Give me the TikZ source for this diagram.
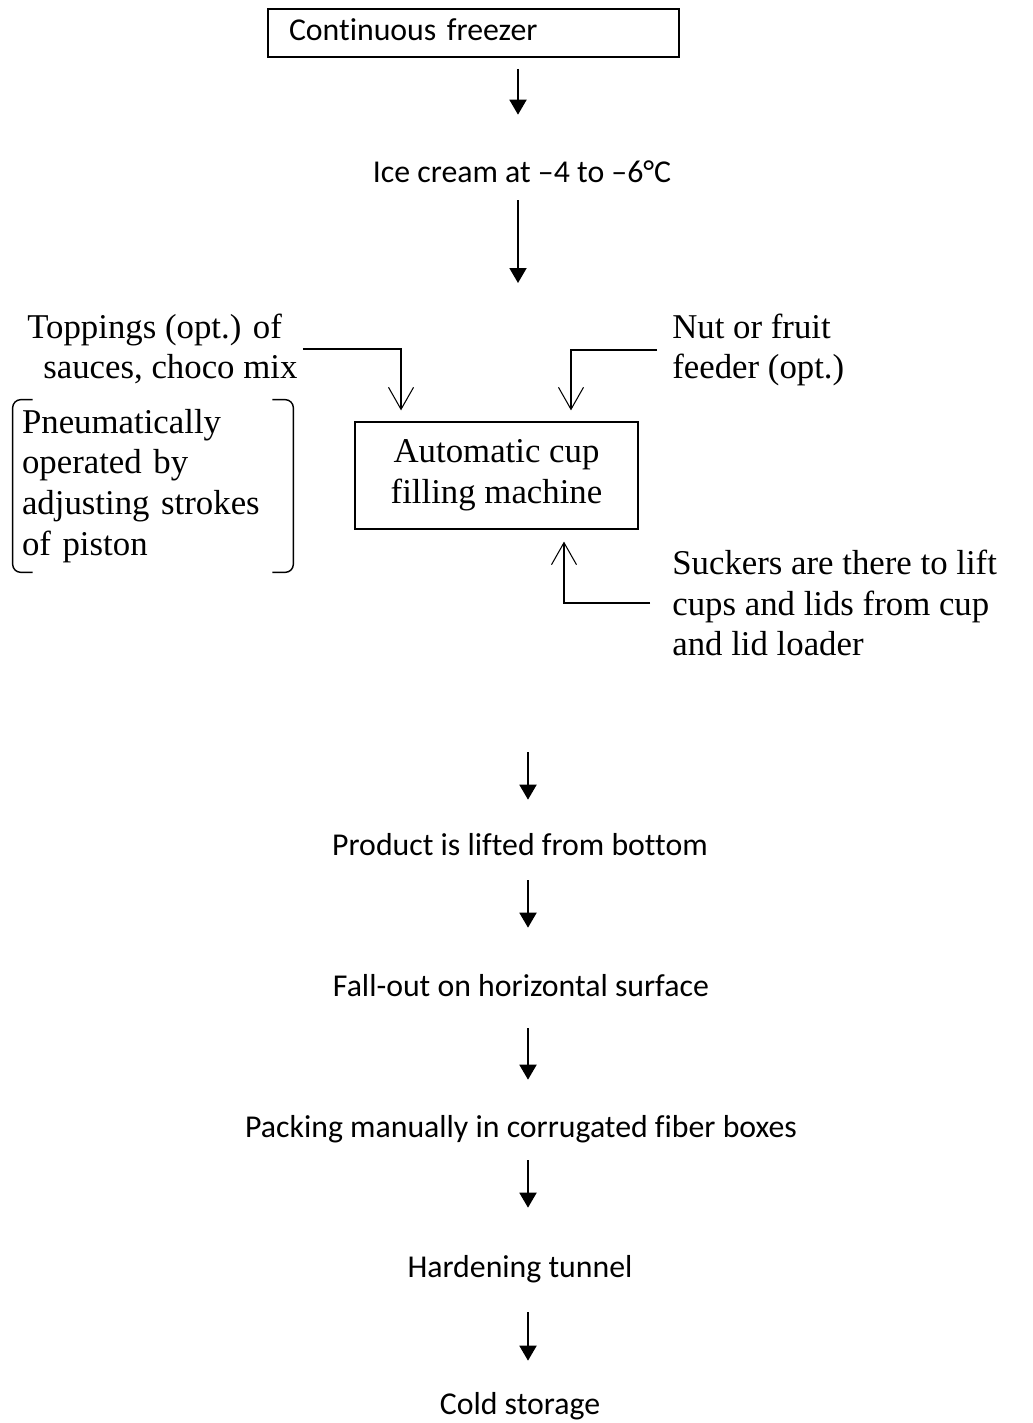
\documentclass[tikz,border=0pt]{standalone}
\usepackage{fontspec}
\setmainfont{Carlito}[Ligatures=NoCommon]
\newfontfamily\notefont{Liberation Serif}
\usetikzlibrary{arrows.meta}

\begin{document}
\begin{tikzpicture}[x=0.02cm, y=-0.02cm,
    flow/.style={-{Triangle[length=0.3cm, width=0.34cm]}, line width=1.1pt},
    feed/.style={-{Straight Barb[length=0.44cm, width=0.5cm]}, line width=0.6pt},
    stage/.style={font=\fontsize{18.1}{21.7}\selectfont, inner sep=0pt, anchor=base, text height=0.44cm, text depth=0.14cm},
    note/.style={font=\notefont\fontsize{19.8}{23.2}\selectfont, inner sep=0pt, align=left},
    bracket/.style={line width=0.8pt, rounded corners=0.16cm}]
    \useasboundingbox (0,0) rectangle (1032,1423);

    % top of the line
    \node[draw, line width=1.1pt, text width=7.38cm, inner xsep=0.42cm, inner ysep=0pt, minimum height=0.96cm, align=left,
          font=\fontsize{18.1}{21.7}\selectfont, text height=0.44cm, text depth=0.14cm] (freezer) at (473.5,33) {Continuous freezer};
    \node[stage] (ice) at (522,182) {Ice cream at –4 to –6°C};
    \coordinate (fillin) at (518,283);

    \draw[flow, shorten <=0.22cm, shorten >=0.9cm] (freezer.south -| fillin) -- (ice.north -| fillin);
    \draw[flow, shorten <=0.22cm] (ice.south -| fillin) -- (fillin);

    % filling station
    \node[note, draw, line width=0.7pt, minimum width=5.66cm, minimum height=2.14cm, align=center] (cupbox) at (496.5,475.5) {Automatic cup\\filling machine};
    \node[note, anchor=west] (toppings) at (27,349) {Toppings (opt.) of\\\hspace*{0.32cm}sauces, choco mix};
    \node[note, anchor=west] (nut) at (672,350) {Nut or fruit\\feeder (opt.)};
    \node[note, anchor=west] (suckers) at (672,603) {Suckers are there to lift\\cups and lids from cup\\and lid loader};
    \node[note, text width=5.24cm, inner xsep=0.18cm, minimum height=3.44cm] (pneu) at (153,486) {Pneumatically\\operated by\\adjusting strokes\\of piston};

    \draw[bracket] ([xshift=0.4cm]pneu.north west) -- (pneu.north west) -- (pneu.south west) -- ([xshift=0.4cm]pneu.south west);
    \draw[bracket] ([xshift=-0.42cm]pneu.north east) -- (pneu.north east) -- (pneu.south east) -- ([xshift=-0.42cm]pneu.south east);

    \draw[feed, shorten <=0.1cm, shorten >=0.22cm] (toppings.east) -| ([xshift=-1.91cm]cupbox.north);
    \draw[feed, shorten <=0.3cm, shorten >=0.22cm] (nut.west) -| ([xshift=1.49cm]cupbox.north);
    \draw[feed, shorten <=0.44cm, shorten >=0.24cm] (suckers.west) -| ([xshift=1.35cm]cupbox.south);

    % after filling
    \coordinate (fillout) at (528,752);
    \node[stage] (product) at (520,855) {Product is lifted from bottom};
    \node[stage] (fallout) at (521,996) {Fall-out on horizontal surface};
    \node[stage] (packing) at (521,1137) {Packing manually in corrugated fiber boxes};
    \node[stage] (hardening) at (520,1277) {Hardening tunnel};
    \node[stage] (cold) at (520,1414) {Cold storage};

    \draw[flow, shorten >=0.66cm] (fillout) -- (product.north -| fillout);
    \draw[flow, shorten <=0.36cm, shorten >=0.92cm] (product.south -| fillout) -- (fallout.north -| fillout);
    \draw[flow, shorten <=0.5cm, shorten >=0.7cm] (fallout.south -| fillout) -- (packing.north -| fillout);
    \draw[flow, shorten <=0.32cm, shorten >=0.94cm] (packing.south -| fillout) -- (hardening.north -| fillout);
    \draw[flow, shorten <=0.56cm, shorten >=0.62cm] (hardening.south -| fillout) -- (cold.north -| fillout);
\end{tikzpicture}
\end{document}
